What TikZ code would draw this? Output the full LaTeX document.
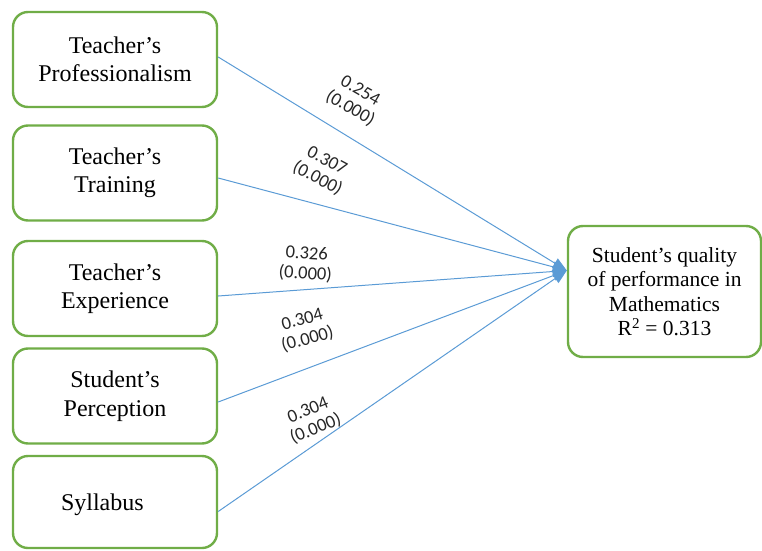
\documentclass[tikz,border=0pt]{standalone}
\usepackage{fontspec}
\setmainfont{Liberation Serif}
\newfontfamily\coeffont{Carlito}
\usetikzlibrary{positioning,arrows.meta}
\definecolor{boxgreen}{RGB}{112,173,71}
\definecolor{linkblue}{RGB}{91,155,213}
\tikzset{
  pathline/.style={-{Triangle[length=14pt,width=11pt]}, draw=linkblue, line width=1pt},
  factor/.style={draw=boxgreen, line width=2.4pt, rounded corners=15pt, fill=white, minimum width=204pt, minimum height=95pt, align=center, font=\fontsize{24}{28.5}\selectfont},
  outcome/.style={draw=boxgreen, line width=2.4pt, rounded corners=15pt, fill=white, minimum width=193pt, minimum height=131pt, align=center, font=\fontsize{21.5}{24.5}\selectfont},
  coef/.style={font=\coeffont\fontsize{18.5}{20}\selectfont, align=center, text=black!85, inner sep=1pt}
}
\begin{document}
\begin{tikzpicture}[x=1pt, y=1pt]
  \useasboundingbox (0,0) rectangle (762,550);
  % predictors
  \node[factor] (prof) at (115,490.5) {Teacher’s\\Professionalism};
  \node[factor] (train) at (115,377) {Teacher’s\\Training};
  \node[factor] (exper) at (115,261.5) {Teacher’s\\Experience};
  \node[factor] (percep) at (115,154) {Student’s\\Perception};
  \node[factor, minimum height=92pt, text depth=0pt, inner xsep=0pt, text width=180pt, align=left] (syll) at (115,48) {\hspace*{36pt}Syllabus\\[-14pt]};
  % outcome
  \node[outcome] (perf) at (664.5,258.5) {Student’s quality\\of performance in\\Mathematics\\R\textsuperscript{2} = 0.313};
  \coordinate (tip) at ([yshift=21pt]perf.west);
  % paths
  \draw[pathline] ([yshift=2.5pt]prof.east) -- (tip);
  \draw[pathline] ([yshift=-5pt]train.east) -- (tip);
  \draw[pathline] ([yshift=-7.5pt]exper.east) -- (tip);
  \draw[pathline] ([yshift=-6pt]percep.east) -- (tip);
  \draw[pathline] ([yshift=-9.5pt]syll.east) -- (tip);
  % coefficients
  \node[coef, rotate=-30] (c1) at (355,450) {0.254\\(0.000)};
  \node[coef, rotate=-28] (c2) at (322,380) {0.307\\(0.000)};
  \node[coef, rotate=-4] (c3) at (306,286) {0.326\\(0.000)};
  \node[coef, rotate=15] (c4) at (305,220) {0.304\\(0.000)};
  \node[coef, rotate=22] (c5) at (312,130) {0.304\\(0.000)};
\end{tikzpicture}
\end{document}
